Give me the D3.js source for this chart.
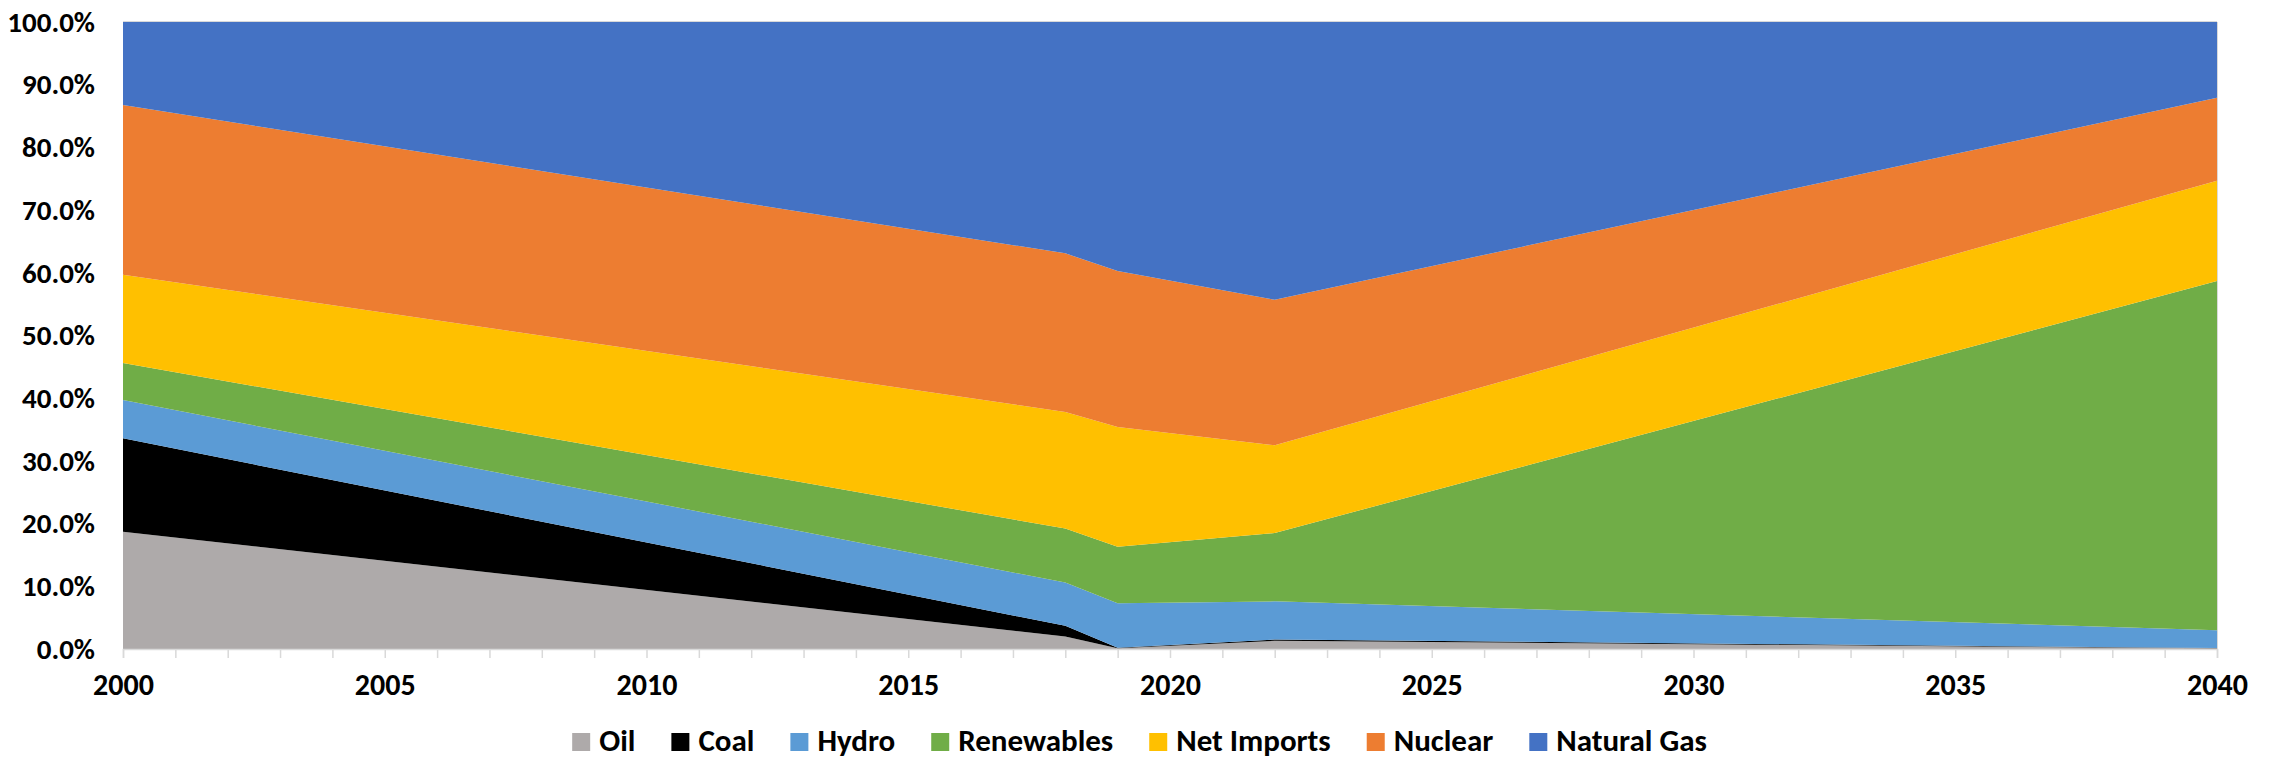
<!DOCTYPE html>
<html>
<head>
<meta charset="utf-8">
<script src="https://cdn.jsdelivr.net/npm/d3@7"></script>
<style>
  html, body { margin: 0; padding: 0; background: #fff; }
  svg { display: block; }
  text { font-family: Carlito, Calibri, "Liberation Sans Narrow", "Arial Narrow", sans-serif; font-weight: bold; fill: #000; }
</style>
</head>
<body>
<svg id="chart" width="2269" height="760"></svg>
<script>
// ---- Data (percent share) ----
const years       = [2000, 2018, 2019, 2022, 2040];
const oil         = [18.7, 2.0, 0.1, 1.3, 0.1];
const coal        = [14.9, 1.7, 0.1, 0.2, 0.05];
const hydro       = [6.1, 6.9, 7.1, 6.1, 2.85];
const renewables  = [5.9, 8.6, 9.0, 10.9, 55.7];
const netImports  = [14.1, 18.6, 19.1, 14.0, 16.0];
const nuclear     = [27.05, 25.3, 24.9, 23.2, 13.2];
const naturalGas  = [13.25, 36.9, 39.7, 44.3, 12.1];

const seriesNames  = ["Oil", "Coal", "Hydro", "Renewables", "Net Imports", "Nuclear", "Natural Gas"];
const seriesValues = [oil, coal, hydro, renewables, netImports, nuclear, naturalGas];
const seriesColors = ["#AEAAAA", "#000000", "#5B9BD5", "#70AD47", "#FFC000", "#ED7D31", "#4472C4"];
const yTicks = [0, 10, 20, 30, 40, 50, 60, 70, 80, 90, 100];
const xLabelStep = 5;

(function () {
// ---- Layout ----
const mLeft = 123, mRight = 2217, mTop = 22, mBottom = 649;
const FONT = 'Carlito, Calibri, "Liberation Sans Narrow", "Arial Narrow", sans-serif';

const rows = years.map((yr, i) => {
  const r = { year: yr };
  seriesNames.forEach((n, k) => r[n] = seriesValues[k][i]);
  return r;
});

const svg = d3.select("#chart");
const x = d3.scaleLinear().domain([2000, 2040]).range([mLeft, mRight]);
const y = d3.scaleLinear().domain([0, 100]).range([mBottom, mTop]);

const layers = d3.stack().keys(seriesNames)(rows);

const area = d3.area()
  .x(d => x(d.data.year))
  .y0(d => y(d[0]))
  .y1(d => y(d[1]));

svg.append("line")
  .attr("x1", mLeft).attr("x2", mRight)
  .attr("y1", y(100) - 0.5).attr("y2", y(100) - 0.5)
  .attr("stroke", "#D9D9D9").attr("stroke-width", 1);

svg.append("g").selectAll("path")
  .data(layers)
  .join("path")
  .attr("d", area)
  .attr("fill", (d, i) => seriesColors[i]);

svg.append("line")
  .attr("x1", mRight + 0.5).attr("x2", mRight + 0.5)
  .attr("y1", mTop).attr("y2", mBottom)
  .attr("stroke", "#D9D9D9").attr("stroke-width", 1);

// X axis
const allYears = d3.range(2000, 2041);
const xAxis = d3.axisBottom(x)
  .tickValues(allYears)
  .tickSize(9)
  .tickPadding(16)
  .tickFormat(d => (d % xLabelStep === 0 ? String(d) : ""));
const gx = svg.append("g")
  .attr("transform", `translate(0,${mBottom})`)
  .call(xAxis);
gx.select(".domain").attr("stroke", "#D9D9D9").attr("stroke-width", 1.5);
gx.selectAll(".tick line").attr("stroke", "#D9D9D9").attr("stroke-width", 1.5);
gx.selectAll(".tick text")
  .attr("font-size", 30)
  .style("font-family", FONT)
  .style("font-weight", "bold")
  .attr("fill", "#000");

// Y axis
const yAxis = d3.axisLeft(y)
  .tickValues(yTicks)
  .tickSize(0)
  .tickPadding(28)
  .tickFormat(d => d.toFixed(1) + "%");
const gy = svg.append("g")
  .attr("transform", `translate(${mLeft},0)`)
  .call(yAxis);
gy.select(".domain").remove();
gy.selectAll(".tick text")
  .attr("font-size", 29)
  .style("font-family", FONT)
  .style("font-weight", "bold")
  .attr("fill", "#000");

// Legend
const legend = svg.append("g");
const sq = 18, gapText = 9, gapItem = 36;
const items = legend.selectAll("g.item")
  .data(seriesNames)
  .join("g").attr("class", "item");
items.append("rect")
  .attr("width", sq).attr("height", sq)
  .attr("y", 733)
  .attr("fill", (d, i) => seriesColors[i]);
items.append("text")
  .attr("x", sq + gapText)
  .attr("y", 751)
  .attr("font-size", 31)
  .text(d => d);
const widths = [];
items.each(function () { widths.push(d3.select(this).select("text").node().getComputedTextLength()); });
const total = widths.reduce((a, w) => a + sq + gapText + w, 0) + gapItem * (widths.length - 1);
let cx = 1139.5 - total / 2;
items.each(function (d, i) {
  d3.select(this).attr("transform", `translate(${cx},0)`);
  cx += sq + gapText + widths[i] + gapItem;
});
})();
</script>
</body>
</html>
